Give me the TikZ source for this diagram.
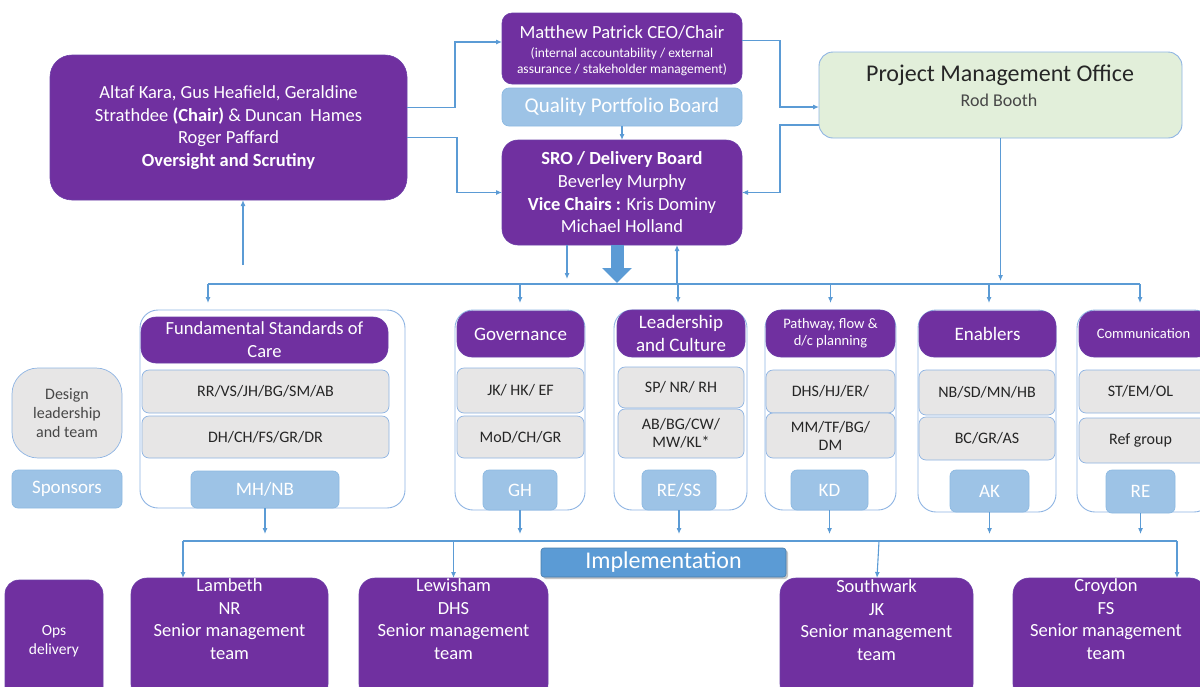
\documentclass[tikz,border=0pt]{standalone}
\usepackage{fontspec}
\setmainfont{Carlito}
\usetikzlibrary{arrows.meta,shadows}
\definecolor{purp}{HTML}{7030A0}
\definecolor{lblue}{HTML}{9DC3E6}
\definecolor{mblue}{HTML}{5B9BD5}
\definecolor{gry}{HTML}{E7E6E6}
\definecolor{pmog}{HTML}{E2EFDA}
\definecolor{bord}{HTML}{8EB4E3}
\definecolor{txt}{HTML}{262626}
\newcommand\fsz[2]{\fontsize{#1}{#2}\selectfont}
\begin{document}
\begin{tikzpicture}[x=1pt,y=-1pt,
 every node/.style={inner sep=0pt,outer sep=0pt,align=center},
 pbox/.style={fill=purp,draw=purp!85!mblue,line width=0.6pt,text=white},
 gbox/.style={fill=gry,draw=bord,line width=0.7pt,rounded corners=7pt,text=txt,font=\fsz{16}{18}},
 bbox/.style={fill=lblue,draw=lblue!75!mblue,line width=0.7pt,rounded corners=6pt,text=white,font=\fsz{19}{22}},
 cont/.style={draw=bord,line width=0.9pt,fill=white,rounded corners=18pt},
 hbox/.style={pbox,rounded corners=15pt},
 wire/.style={draw=mblue,line width=1.1pt},
 conn/.style={wire,-{Latex[length=6pt,width=5pt]}},
 fat/.style={draw=mblue,line width=13pt,-{Triangle[length=15pt,width=29pt]}},
]
\useasboundingbox (0,0) rectangle (1200,686);
\clip (0,0) rectangle (1200,686);

% ---------- top level ----------
\node[pbox,rounded corners=22pt,minimum width=357pt,minimum height=145pt,font=\fsz{18.5}{22.6}] (ov) at (228.5,127.5)
 {Altaf Kara, Gus Heafield, Geraldine\\Strathdee \textbf{(Chair)} \& Duncan\ \ Hames\\Roger Paffard\\\textbf{Oversight and Scrutiny}};

\node[pbox,rounded corners=10pt,minimum width=240pt,minimum height=71pt] (mp) at (622,48.5) {};
\node[text=white,font=\fsz{18.5}{22}] (mpT) at (622,32) {Matthew Patrick CEO/Chair};
\node[text=white,font=\fsz{13.5}{16.5}] (mpS) at (622,61.5) {(internal accountability / external\\assurance / stakeholder management)};

\node[bbox,rounded corners=7pt,minimum width=240pt,minimum height=38pt,font=\fsz{21}{24}] (qpb) at (622,107) {Quality Portfolio Board};

\node[pbox,rounded corners=16pt,minimum width=240pt,minimum height=105pt,font=\fsz{18.5}{22.7}] (sro) at (622,192.5)
 {\textbf{SRO / Delivery Board}\\Beverley Murphy\\\textbf{Vice Chairs :} Kris Dominy\\Michael Holland};

\node[fill=pmog,draw=bord,line width=0.9pt,rounded corners=14pt,minimum width=363pt,minimum height=86pt] (pmo) at (1000.5,95) {};
\node[text=txt,font=\fsz{24}{28}] (pmoT) at (1000,75) {Project Management Office};
\node[text=txt!85!white,font=\fsz{18}{21}] (pmoS) at (999,100) {Rod Booth};

% top connectors
\draw[conn] ([yshift=20pt]ov.east) -- ++(48,0) |- ([yshift=6.5pt]mp.west);
\draw[conn] ([yshift=-10pt]ov.east) -- ++(50,0) |- (sro.west);
\draw[conn] ([yshift=8pt]mp.east) -- ++(38,0) |- ([yshift=-12pt]pmo.west);
\draw[conn] ([yshift=-30pt]pmo.west) -- ++(-39,0) |- (sro.east);
\draw[conn] (qpb.south) -- (sro.north);

% ---------- workstreams ----------
\node[cont,minimum width=265pt,minimum height=198pt] (ws1) at (272.5,409) {};
\node[cont,minimum width=130pt,minimum height=200pt] (ws2) at (520,410) {};
\node[cont,minimum width=133pt,minimum height=200pt] (ws3) at (680.5,410) {};
\node[cont,minimum width=131pt,minimum height=200pt] (ws4) at (830.5,410) {};
\node[cont,minimum width=138pt,minimum height=202pt] (ws5) at (987,411) {};
\node[cont,minimum width=135pt,minimum height=202pt] (ws6) at (1144.5,411) {};

\node[hbox,minimum width=247pt,minimum height=46pt,font=\fsz{18.5}{23}] (h1) at (264.5,340) {Fundamental Standards of\\Care};
\node[hbox,minimum width=127pt,minimum height=46pt,font=\fsz{19}{23}] (h2) at (520.5,334) {Governance};
\node[hbox,minimum width=128pt,minimum height=47pt,font=\fsz{19}{23}] (h3) at (681,333.5) {Leadership\\and Culture};
\node[hbox,minimum width=129pt,minimum height=47pt,font=\fsz{14.5}{17}] (h4) at (830.5,333.5) {Pathway, flow \&\\d/c planning};
\node[hbox,minimum width=137pt,minimum height=46pt,font=\fsz{19}{23}] (h5) at (987.5,334) {Enablers};
\node[hbox,minimum width=133pt,minimum height=46pt,font=\fsz{14.5}{17}] (h6) at (1145.5,334) {\hspace*{-4pt}Communication};

\node[gbox,minimum width=247pt,minimum height=43pt] (g1a) at (265.5,391.5) {RR/VS/JH/BG/SM/AB};
\node[gbox,minimum width=247pt,minimum height=42pt] (g1b) at (265.5,437) {DH/CH/FS/GR/DR};
\node[gbox,minimum width=127pt,minimum height=45pt] (g2a) at (520.5,390.5) {JK/ HK/ EF};
\node[gbox,minimum width=127pt,minimum height=42pt] (g2b) at (520.5,437) {MoD/CH/GR};
\node[gbox,minimum width=126pt,minimum height=41pt] (g3a) at (681,387.5) {SP/ NR/ RH};
\node[gbox,minimum width=126pt,minimum height=49pt] (g3b) at (681,433.5) {AB/BG/CW/\\MW/KL*};
\node[gbox,minimum width=129pt,minimum height=43pt] (g4a) at (830.5,391.5) {DHS/HJ/ER/};
\node[gbox,minimum width=129pt,minimum height=45pt] (g4b) at (830.5,435.5) {MM/TF/BG/\\DM};
\node[gbox,minimum width=136pt,minimum height=45pt] (g5a) at (987,392.5) {NB/SD/MN/HB};
\node[gbox,minimum width=136pt,minimum height=43pt] (g5b) at (987,438.5) {BC/GR/AS};
\node[gbox,minimum width=133pt,minimum height=43pt] (g6a) at (1145.5,391.5) {\hspace*{-10pt}ST/EM/OL};
\node[gbox,minimum width=133pt,minimum height=45pt] (g6b) at (1145.5,440.5) {\hspace*{-10pt}Ref group};

\node[bbox,minimum width=148pt,minimum height=37pt] (b1) at (265,489.5) {MH/NB};
\node[bbox,minimum width=74pt,minimum height=40pt] (b2) at (520,490) {GH};
\node[bbox,minimum width=74pt,minimum height=40pt] (b3) at (679,490) {RE/SS};
\node[bbox,minimum width=77pt,minimum height=40pt] (b4) at (829.5,490) {KD};
\node[bbox,minimum width=79pt,minimum height=42pt] (b5) at (989.5,491) {AK};
\node[bbox,minimum width=69pt,minimum height=43pt] (b6) at (1140.5,491.5) {RE};

\node[gbox,rounded corners=26pt,minimum width=110pt,minimum height=90pt,text=txt!85!white,font=\fsz{16}{19}] (dl) at (67,413) {Design\\leadership\\and team};
\node[bbox,minimum width=110pt,minimum height=38pt] (sp) at (67,489) {Sponsors};

% upper bus
\coordinate (bus) at (0,284);
\coordinate (a1) at ([xshift=-64.5pt]ws1.north);
\coordinate (a2) at (ws2.north);
\coordinate (a3) at ([xshift=-2.5pt]ws3.north);
\coordinate (a4) at (ws4.north);
\coordinate (a5) at ([xshift=2pt]ws5.north);
\coordinate (a6) at ([xshift=-4.5pt]ws6.north);
\draw[wire] (a1 |- bus) -- (a6 |- bus);
\foreach \a in {a1,a2,a3,a4,a5,a6}{\draw[conn,shorten >=7pt] (\a |- bus) -- (\a);}

\coordinate (s1) at ([xshift=-55pt]sro.south);
\coordinate (s2) at ([xshift=-5pt]sro.south);
\coordinate (s3) at ([xshift=55pt]sro.south);
\draw[conn,shorten >=5pt] (s1) -- (s1 |- bus);
\draw[fat] (s2) -- ([yshift=1pt]s2 |- bus);
\draw[conn] (s3 |- bus) -- (s3);
\draw[conn,shorten >=3pt] (pmo.south) -- (pmo.south |- bus);
\coordinate (ovb) at (243,265);
\draw[conn] (ovb) -- (ovb |- ov.south);

% ---------- implementation ----------
\node[pbox,rounded corners=14pt,minimum width=98pt,minimum height=122pt,font=\fsz{15.5}{19}] (ops) at (54,641) {Ops\\delivery};
\node[pbox,rounded corners=16pt,minimum width=197pt,minimum height=122pt] (lam) at (229.5,639) {};
\node[pbox,rounded corners=16pt,minimum width=189pt,minimum height=122pt] (lew) at (453.5,639) {};
\node[pbox,rounded corners=16pt,minimum width=193pt,minimum height=122pt] (sou) at (876.5,639) {};
\node[pbox,rounded corners=16pt,minimum width=193pt,minimum height=122pt] (cro) at (1109.5,639) {};
\node[text=white,font=\fsz{18.5}{22.6}] (lamT) at (229.5,619) {Lambeth\\NR\\Senior management\\team};
\node[text=white,font=\fsz{18.5}{22.6}] (lewT) at (453.5,619) {Lewisham\\DHS\\Senior management\\team};
\node[text=white,font=\fsz{18.5}{22.6}] (souT) at (876.5,620) {Southwark\\JK\\Senior management\\team};
\node[text=white,font=\fsz{18.5}{22.6}] (croT) at (1106,619) {Croydon\\FS\\Senior management\\team};

\coordinate (bus2) at (0,541);
\coordinate (l1) at ([xshift=-46.5pt]lam.north);
\coordinate (l2) at (lew.north);
\coordinate (l3) at ([xshift=0.5pt]sou.north);
\coordinate (l4) at ([xshift=67.5pt]cro.north);
\draw[wire] (l1 |- bus2) -- (l4 |- bus2);
\foreach \b in {b1,b2,b3,b4,b5,b6}{\draw[conn,shorten >=7pt] (\b.south) -- (\b.south |- bus2);}
\draw[conn] (l1 |- bus2) -- (l1);
\draw[conn] (l2 |- bus2) -- (l2);
\draw[conn] ([xshift=2pt]l3 |- bus2) -- (l3);
\draw[conn] (l4 |- bus2) -- (l4);

\node[fill=mblue,draw=mblue!80!black,line width=0.6pt,rounded corners=3pt,minimum width=245pt,minimum height=29pt,text=white,font=\fsz{24}{26},drop shadow={opacity=0.45,shadow xshift=2pt,shadow yshift=-2pt}] (impl) at (663.5,562.5) {Implementation};

\end{tikzpicture}
\end{document}
